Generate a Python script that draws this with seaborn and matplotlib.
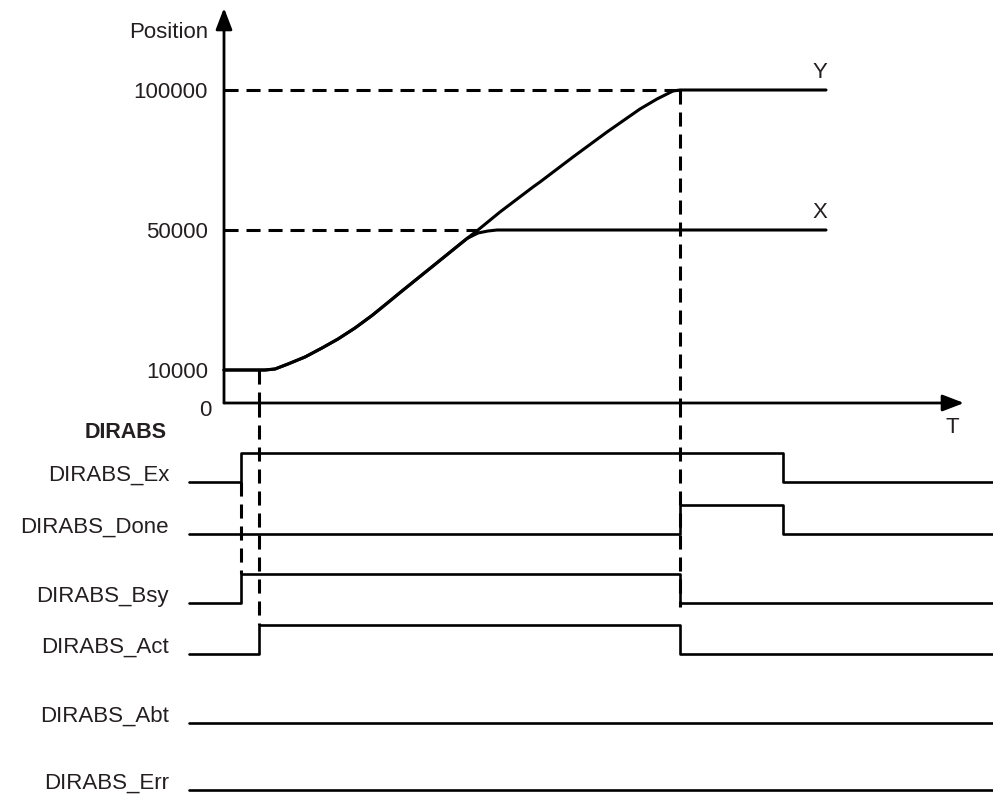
import numpy as np
import matplotlib
matplotlib.use("Agg")
import matplotlib.pyplot as plt
import matplotlib.transforms as mtransforms
import seaborn as sns

# ---------------- data ----------------
pos_ticks = [0, 10000, 50000, 100000]
pos_tick_labels = ["0", "10000", "50000", "100000"]
start_pos = 10000
x_target = 50000
y_target = 100000

# event times (arbitrary time units)
t_ex_on = 17
t_act_on = 35
t_y_done = 456
t_ex_off = 559
t_trace_end = 602
t_sig_start = -35
t_sig_end = 769
t_axis_end = 740

# trajectories
y_time = [0, 41, 51, 64, 81, 98, 114, 131, 148, 164, 178, 209, 243, 254, 276, 309,
          316, 349, 383, 416, 433, 449, 456, 602]
y_pos = [10000, 10000, 10286, 11714, 13714, 16286, 18857, 22000, 25571, 29286, 32571,
         39714, 47571, 50000, 56429, 65357, 67143, 76071, 85000, 93214, 96786, 99643,
         100000, 100000]
x_time = [0, 41, 51, 64, 81, 98, 114, 131, 148, 164, 178, 209, 243, 254, 264, 273, 602]
x_pos = [10000, 10000, 10286, 11714, 13714, 16286, 18857, 22000, 25571, 29286, 32571,
         39714, 47571, 49143, 49714, 50000, 50000]

# logic signals (step-post)
signal_names = ["DIRABS_Ex", "DIRABS_Done", "DIRABS_Bsy", "DIRABS_Act", "DIRABS_Abt", "DIRABS_Err"]
ex_t, ex_v = [t_sig_start, t_ex_on, t_ex_off, t_sig_end], [0, 1, 0, 0]
done_t, done_v = [t_sig_start, t_y_done, t_ex_off, t_sig_end], [0, 1, 0, 0]
bsy_t, bsy_v = [t_sig_start, t_ex_on, t_y_done, t_sig_end], [0, 1, 0, 0]
act_t, act_v = [t_sig_start, t_act_on, t_y_done, t_sig_end], [0, 1, 0, 0]
abt_t, abt_v = [t_sig_start, t_sig_end], [0, 0]
err_t, err_v = [t_sig_start, t_sig_end], [0, 0]
signals = [(ex_t, ex_v), (done_t, done_v), (bsy_t, bsy_v), (act_t, act_v), (abt_t, abt_v), (err_t, err_v)]

# ---------------- layout / style ----------------
lane_base = [79, 131, 200, 251, 320, 387]   # pixels below the time axis
lane_amp = 29
TXT = "#231f20"
FS = 16
DASH = (0, (4.6, 2.6))

sns.set_style("white")
plt.rcParams["font.family"] = ["Liberation Sans", "DejaVu Sans"]

W, H = 993, 794
fig = plt.figure(figsize=(W / 100, H / 100), dpi=100)
axis_px = 403
ax1 = fig.add_axes([0, (H - axis_px) / H, 1, axis_px / H])
ax2 = fig.add_axes([0, 0, 1, (H - axis_px) / H])
for ax in (ax1, ax2):
    ax.set_facecolor("none")
    ax.set_xlim(-224, W - 224)
    ax.set_xticks([])
    for s in ax.spines.values():
        s.set_visible(False)

# schematic (piecewise) position scale
sc_v = [0, 10000, 50000, 100000, 200000]
sc_p = [0, 33, 173, 313, 593]
fwd = lambda v: np.interp(v, sc_v, sc_p)
inv = lambda p: np.interp(p, sc_p, sc_v)
ax1.set_yscale("function", functions=(fwd, inv))
ax1.set_ylim(0, inv(axis_px))
ax1.spines["left"].set_position(("data", 0))
ax1.set_yticks(pos_ticks)
ax1.set_yticklabels(pos_tick_labels)
ax1.minorticks_off()
ax1.tick_params(axis="y", length=0, pad=11.5, labelsize=FS, labelcolor=TXT)

# axes arrows
arrow = dict(arrowstyle="-|>,head_length=1.3,head_width=0.5", lw=2, color="black",
             shrinkA=0, shrinkB=0)
ax1.annotate("", xy=(0, 395 / axis_px), xycoords=("data", "axes fraction"),
             xytext=(0, 0), textcoords=("data", "axes fraction"), arrowprops=arrow)
ax1.annotate("", xy=(t_axis_end, 0), xytext=(0, 0), arrowprops=arrow, annotation_clip=False)

# position trajectories
sns.lineplot(x=y_time, y=y_pos, ax=ax1, color="black", lw=2.2, sort=False, estimator=None)
sns.lineplot(x=x_time, y=x_pos, ax=ax1, color="black", lw=2.2, sort=False, estimator=None)
for ln in ax1.lines:
    ln.set_clip_on(False)
    ln.set_solid_joinstyle("round")
ax1.set_ylabel("")
ax1.set_xlabel("")

# reference dashed lines (top)
t_cross = np.interp(x_target, y_pos[1:], y_time[1:])
ax1.plot([0, t_y_done], [y_target, y_target], color="black", lw=2.2, ls=DASH, clip_on=False)
ax1.plot([0, t_cross], [x_target, x_target], color="black", lw=2.2, ls=DASH, clip_on=False)
ax1.plot([t_act_on, t_act_on], [start_pos, 0], color="black", lw=2.2, ls=DASH, clip_on=False)
ax1.plot([t_y_done, t_y_done], [y_target, 0], color="black", lw=2.2, ls=DASH, clip_on=False)

ax1.text(-16, 1 - 33 / axis_px, "Position", transform=ax1.get_xaxis_transform(),
         ha="right", va="center", fontsize=FS, color=TXT)
ax1.annotate("Y", xy=(t_trace_end, y_target), xytext=(-4.3, 12.5), textcoords="offset points",
             ha="center", va="center", fontsize=FS, color=TXT)
ax1.annotate("X", xy=(t_trace_end, x_target), xytext=(-4.3, 12.5), textcoords="offset points",
             ha="center", va="center", fontsize=FS, color=TXT)
ax1.annotate("T", xy=(t_axis_end, 0), xytext=(-8.6, -17.3), textcoords="offset points",
             ha="center", va="center", fontsize=FS, color=TXT, annotation_clip=False)

# nudge the "0" label slightly down/right as in the reference
lbl0 = ax1.get_yticklabels()[0]
lbl0.set_transform(lbl0.get_transform() +
                   mtransforms.ScaledTranslation(3 / 100, -5 / 100, fig.dpi_scale_trans))

# ---------------- signals ----------------
ax2.set_ylim(H - axis_px, 0)
ax2.set_yticks([])
for (tt, vv), base, name in zip(signals, lane_base, signal_names):
    yy = [base - lane_amp * v for v in vv]
    sns.lineplot(x=tt, y=yy, ax=ax2, color="black", lw=1.9, drawstyle="steps-post",
                 sort=False, estimator=None)
    ax2.text(-55, base - 1, name, ha="right", va="baseline", fontsize=FS, color=TXT)
for ln in ax2.lines:
    ln.set_clip_on(False)
ax2.set_xlabel("")
ax2.set_ylabel("")
ax2.text(-57, 35, "DIRABS", ha="right", va="baseline", fontsize=FS - 0.5, fontweight="bold",
         color=TXT)

# reference dashed lines (bottom)
ax2.plot([t_ex_on, t_ex_on], [lane_base[0], lane_base[2] - lane_amp], color="black", lw=2.2,
         ls=DASH, clip_on=False)
ax2.plot([t_act_on, t_act_on], [0, lane_base[3] - lane_amp], color="black", lw=2.2,
         ls=DASH, clip_on=False)
ax2.plot([t_y_done, t_y_done], [0, lane_base[2] + 4], color="black", lw=2.2,
         ls=DASH, clip_on=False)

fig.savefig("out.png", dpi=100)
